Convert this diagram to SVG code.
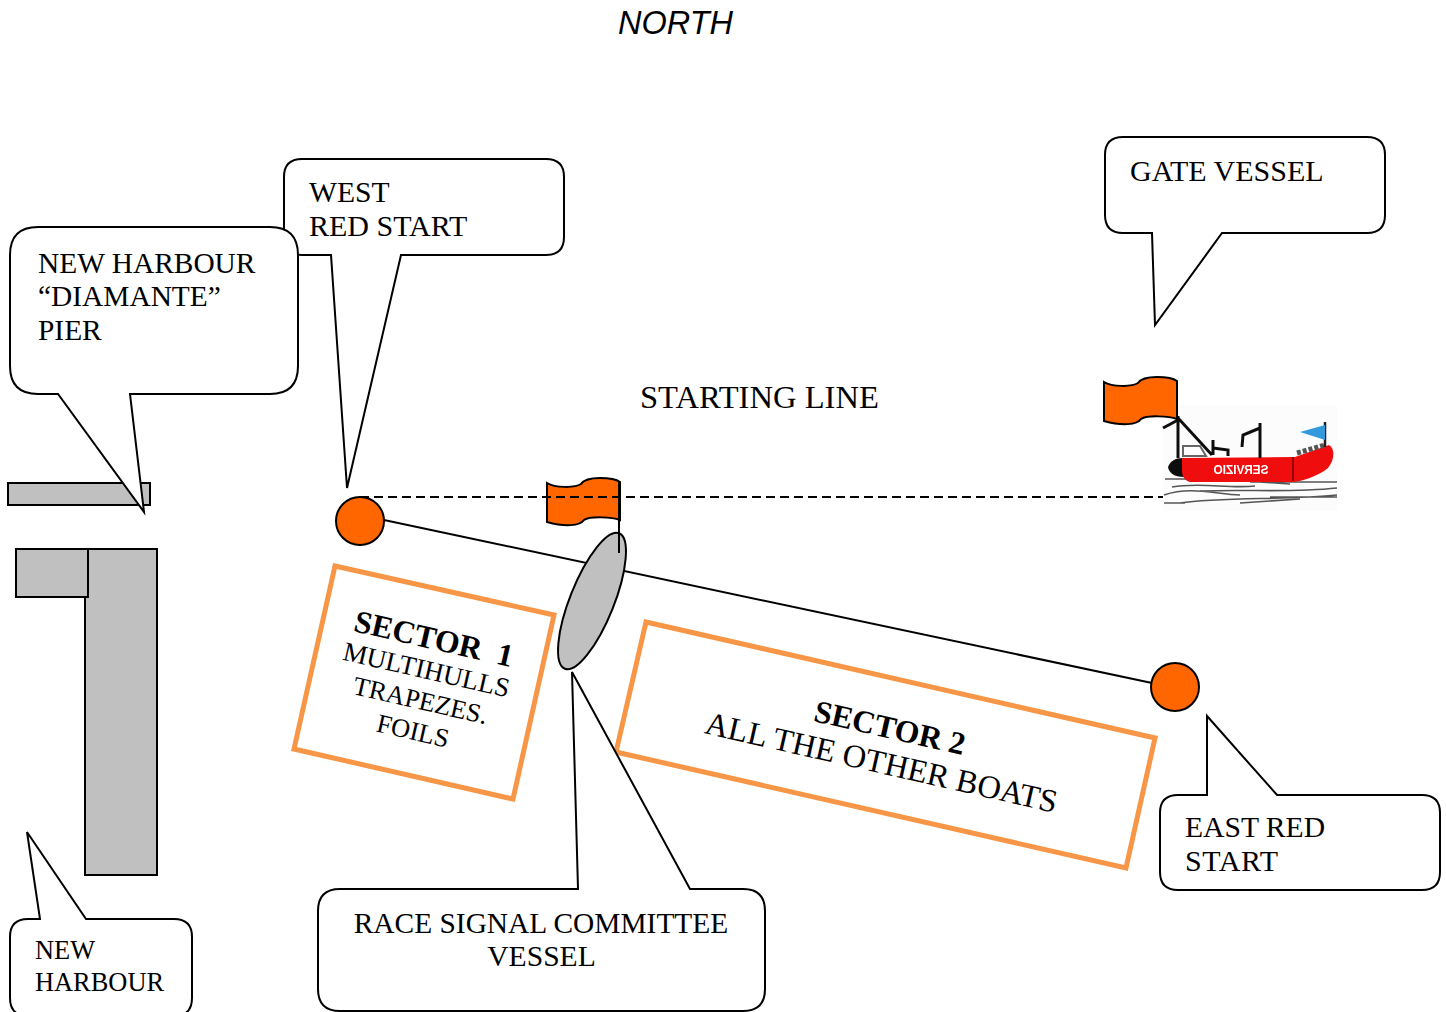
<svg xmlns="http://www.w3.org/2000/svg" width="1446" height="1012" viewBox="0 0 1446 1012">
<style>
text{font-family:"Liberation Serif","Times New Roman",serif;font-size:29.6px;fill:#000}
.w30{font-size:30px}
.n{font-size:29.4px}
.b{font-weight:bold;font-size:31.8px}
.t1{font-size:26.4px}
.t3{font-size:27px}
.t2{font-size:32.5px}
.h{font-size:26.4px}
.c{fill:#fff;stroke:#000;stroke-width:2;stroke-linejoin:miter}
.g{fill:#c0c0c0;stroke:#000;stroke-width:2}
.o{fill:#ff6600;stroke:#000;stroke-width:2}
.s{fill:#fff;stroke:#f79646;stroke-width:5;stroke-linejoin:miter}
.l{fill:none;stroke:#000;stroke-width:2}
.w{fill:none;stroke:#555;stroke-width:1.6}
.m{fill:none;stroke:#111;stroke-width:3}
</style>
<defs>
<path id="flag" class="o" d="M547 483C555 488 575 488 581 484C585 478 595 478 600 478C608 478 616 479 620 482L620 520C612 517 590 516 584 520C580 526 565 527 547 522Z"/>
<filter id="soft" x="-5%" y="-5%" width="110%" height="110%"><feGaussianBlur stdDeviation="0.6"/></filter>
</defs>

<g id="north"><text x="618" y="34" style="font-family:'Liberation Sans',Arial,sans-serif;font-style:italic;font-size:32.5px">NORTH</text></g>
<g id="starting-line-label"><text x="640" y="408" style="font-size:32.6px">STARTING LINE</text></g>

<g id="pier"><rect class="g" x="8" y="483" width="142" height="22"/></g>
<g id="harbour">
<rect class="g" x="85" y="549" width="72" height="326"/>
<rect class="g" x="16" y="549" width="72" height="48"/>
</g>

<g id="sector-1">
<polygon class="s" points="335,566 554,615 513,799 294,749"/>
<text class="b" text-anchor="middle" transform="translate(431.5,649) rotate(12.9)" xml:space="preserve">SECTOR  1</text>
<text class="t3" text-anchor="middle" transform="translate(424.5,678.5) rotate(12.9)">MULTIHULLS</text>
<text class="t1" text-anchor="middle" transform="translate(418.5,709) rotate(12.9)">TRAPEZES.</text>
<text class="t1" text-anchor="middle" transform="translate(411,739.5) rotate(12.9)">FOILS</text>
</g>
<g id="sector-2">
<polygon class="s" points="646,622 1155,738 1126,868 616,752"/>
<text class="b" text-anchor="middle" transform="translate(887.5,738) rotate(12.8)">SECTOR 2</text>
<text class="t2" text-anchor="middle" transform="translate(879,773) rotate(12.8)">ALL THE OTHER BOATS</text>
</g>

<g id="committee-flag"><use href="#flag"/></g>

<g id="connectors">
<line class="l" x1="384" y1="520" x2="1152" y2="683"/>
<path d="M360 497H1165" fill="none" stroke="#000" stroke-width="2" stroke-dasharray="9 5"/>
</g>

<g id="west-start-buoy"><circle class="o" cx="360" cy="521" r="24"/></g>
<g id="east-start-buoy"><circle class="o" cx="1175" cy="687" r="24"/></g>

<g id="committee-vessel">
<ellipse class="g" cx="592" cy="601" rx="22" ry="73" transform="rotate(21.8 592 601)"/>
<line class="l" x1="619" y1="482" x2="619" y2="553"/>
</g>

<g id="gate-vessel">
<g filter="url(#soft)">
<rect x="1163" y="405" width="174" height="106" fill="#fcfcfc"/>
<path class="w" d="M1165 479H1215M1172 487C1200 482 1230 489 1255 486M1164 495C1190 486 1215 494 1240 495M1180 503C1220 497 1290 500 1337 495M1250 482H1337M1200 491C1250 489 1290 493 1337 488M1164 503H1185M1230 480L1290 484M1270 497H1337M1240 503L1300 499"/>
<path d="M1168 467C1170 461 1176 458 1182 458L1184 477C1174 477 1169 473 1168 467Z" fill="#111"/>
<path d="M1182 458L1295 457L1329 445C1335 448 1335 460 1328 468C1317 477 1302 481 1293 482L1190 482C1184 480 1182 476 1182 470Z" fill="#f00d0d"/>
<line x1="1293" y1="457" x2="1293" y2="481" stroke="#700" stroke-width="1.5"/>
<path class="m" d="M1178 458V416M1163 428L1178 420M1178 418L1212 455M1213 440V455M1213 448L1228 450V456M1260 423V458M1260 428L1243 435L1242 447"/>
<path d="M1183 446H1200L1206 456H1183Z" fill="none" stroke="#666" stroke-width="2"/>
<path d="M1297 453L1325 445" stroke="#555" stroke-width="5" stroke-dasharray="4 2" fill="none"/>
<line x1="1325" y1="422" x2="1325" y2="447" stroke="#222" stroke-width="2.5"/>
<path d="M1300 432L1325 425V440Z" fill="#3399dd"/>
<text text-anchor="middle" textLength="55" transform="translate(1241,474) scale(-1,1)" style="font-family:'Liberation Sans',Arial,sans-serif;font-weight:bold;font-size:12px;fill:#fff">SERVIZIO</text>
</g>
<use href="#flag" x="557" y="-101"/>
</g>

<g id="callout-west">
<path class="c" d="M302 159H546Q564 159 564 177V237Q564 255 546 255H401L347 488L331 255H302Q284 255 284 237V177Q284 159 302 159Z"/>
<text x="309" y="202">WEST</text><text class="w30" x="309" y="236">RED START</text>
</g>
<g id="callout-pier">
<path class="c" d="M38 227H270Q298 227 298 255V366Q298 394 270 394H130L144 512L58 394H38Q10 394 10 366V255Q10 227 38 227Z"/>
<text class="n" x="38" y="273">NEW HARBOUR</text><text class="n" x="38" y="306">“DIAMANTE”</text><text class="n" x="38" y="340">PIER</text>
</g>
<g id="callout-gate">
<path class="c" d="M1123 137H1367Q1385 137 1385 155V215Q1385 233 1367 233H1222L1155 325L1152 233H1123Q1105 233 1105 215V155Q1105 137 1123 137Z"/>
<text class="w30" x="1130" y="180.5">GATE VESSEL</text>
</g>
<g id="callout-east">
<path class="c" d="M1178 795H1207V716L1277 795H1422Q1440 795 1440 813V872Q1440 890 1422 890H1178Q1160 890 1160 872V813Q1160 795 1178 795Z"/>
<text x="1185" y="837">EAST RED</text><text class="w30" x="1185" y="871" textLength="93">START</text>
</g>
<g id="callout-committee">
<path class="c" d="M340 889H578L572 672L690 889H743Q765 889 765 911V989Q765 1011 743 1011H340Q318 1011 318 989V911Q318 889 340 889Z"/>
<text class="n" x="541" y="933" text-anchor="middle">RACE SIGNAL COMMITTEE</text><text x="541.5" y="966" text-anchor="middle">VESSEL</text>
</g>
<g id="callout-harbour">
<path class="c" d="M28 919H40L27 832L86 919H174Q192 919 192 937V998Q192 1016 174 1016H28Q10 1016 10 998V937Q10 919 28 919Z"/>
<text class="h" x="35" y="959">NEW</text><text class="h" x="35" y="991">HARBOUR</text>
</g>
</svg>
